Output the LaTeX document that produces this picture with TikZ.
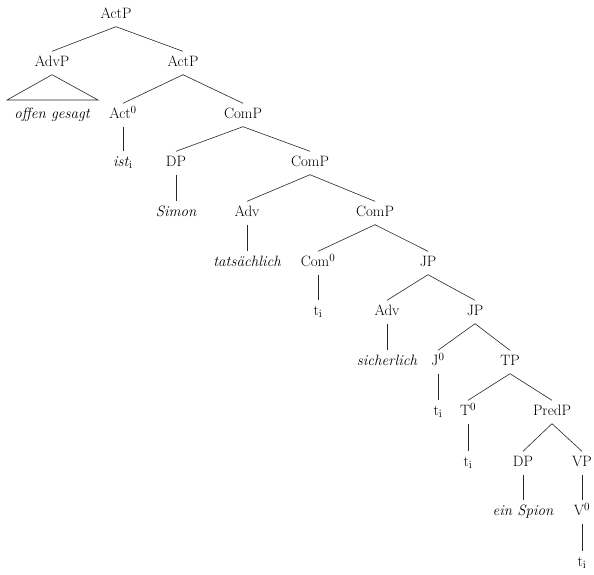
\documentclass[tikz,border=0pt]{standalone}
\begin{document}
\begin{tikzpicture}[x=1pt,y=-1pt,
  lbl/.style={inner xsep=1pt, inner ysep=5pt, text height=10pt, text depth=3pt, font=\fontsize{15}{17}\selectfont},
  edge/.style={draw=black!85, line width=0.6pt}]
\useasboundingbox (0,0) rectangle (594,574);
% level 0
\node[lbl] (actp) at (116,15) {ActP};
% level 1
\node[lbl] (advp) at (52,63) {AdvP};
\node[lbl] (actp2) at (183,63) {ActP};
% level 2
\node[lbl] (og) at (52,115) {\itshape offen gesagt};
\node[lbl] (act0) at (123,115) {Act$^0$};
\node[lbl] (comp) at (243,115) {ComP};
% level 3
\node[lbl] (ist) at (123,163) {\textit{ist}$_{\mathrm{i}}$};
\node[lbl] (dp) at (176,163) {DP};
\node[lbl] (comp2) at (310,163) {ComP};
% level 4
\node[lbl] (simon) at (176,213) {\itshape Simon};
\node[lbl] (adv) at (247,213) {Adv};
\node[lbl] (comp3) at (375,213) {ComP};
% level 5
\node[lbl] (tats) at (247,263) {\itshape tats\"achlich};
\node[lbl] (com0) at (318,263) {Com$^0$};
\node[lbl] (jp) at (428,263) {JP};
% level 6
\node[lbl] (t1) at (318,312) {t$_{\mathrm{i}}$};
\node[lbl] (adv2) at (387,312) {Adv};
\node[lbl] (jp2) at (475,312) {JP};
% level 7
\node[lbl] (sich) at (387,362) {\itshape sicherlich};
\node[lbl] (j0) at (438,362) {J$^0$};
\node[lbl] (tp) at (510,362) {TP};
% level 8
\node[lbl] (t2) at (438,412) {t$_{\mathrm{i}}$};
\node[lbl] (t0) at (468,412) {T$^0$};
\node[lbl] (predp) at (552,412) {PredP};
% level 9
\node[lbl] (t3) at (468,463) {t$_{\mathrm{i}}$};
\node[lbl] (dp2) at (523,463) {DP};
\node[lbl] (vp) at (582,463) {VP};
% level 10
\node[lbl] (spion) at (523,512) {\itshape ein Spion};
\node[lbl] (v0) at (582,512) {V$^0$};
% level 11
\node[lbl] (t4) at (582,563) {t$_{\mathrm{i}}$};
% triangle
\coordinate (trl) at (7,100);
\coordinate (trr) at (98,100);
\draw[edge] (advp.south) -- (trl) -- (trr) -- cycle;
% edges
\draw[edge] (actp.south) -- (advp.north);
\draw[edge] (actp.south) -- (actp2.north);
\draw[edge] (actp2.south) -- (act0.north);
\draw[edge] (actp2.south) -- (comp.north);
\draw[edge] (act0.south) -- (ist.north);
\draw[edge] (comp.south) -- (dp.north);
\draw[edge] (comp.south) -- (comp2.north);
\draw[edge] (dp.south) -- (simon.north);
\draw[edge] (comp2.south) -- (adv.north);
\draw[edge] (comp2.south) -- (comp3.north);
\draw[edge] (adv.south) -- (tats.north);
\draw[edge] (comp3.south) -- (com0.north);
\draw[edge] (comp3.south) -- (jp.north);
\draw[edge] (com0.south) -- (t1.north);
\draw[edge] (jp.south) -- (adv2.north);
\draw[edge] (jp.south) -- (jp2.north);
\draw[edge] (adv2.south) -- (sich.north);
\draw[edge] (jp2.south) -- (j0.north);
\draw[edge] (jp2.south) -- (tp.north);
\draw[edge] (j0.south) -- (t2.north);
\draw[edge] (tp.south) -- (t0.north);
\draw[edge] (tp.south) -- (predp.north);
\draw[edge] (t0.south) -- (t3.north);
\draw[edge] (predp.south) -- (dp2.north);
\draw[edge] (predp.south) -- (vp.north);
\draw[edge] (dp2.south) -- (spion.north);
\draw[edge] (vp.south) -- (v0.north);
\draw[edge] (v0.south) -- (t4.north);
\end{tikzpicture}
\end{document}
